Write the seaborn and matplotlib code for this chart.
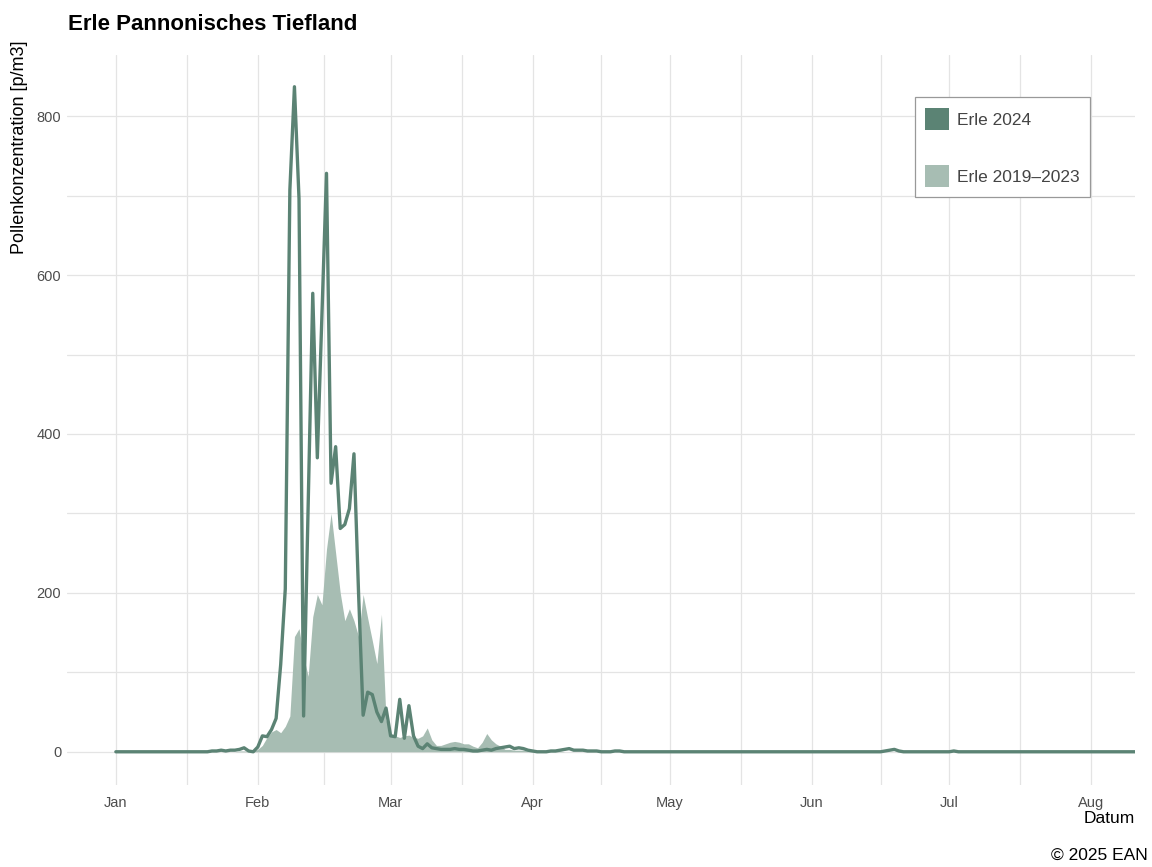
"""
Erle Pannonisches Tiefland - Pollenkonzentration 2024 vs. Mittel 2019-2023
"""

import numpy as np
import pandas as pd
import matplotlib
matplotlib.use("Agg")
import matplotlib.pyplot as plt
from matplotlib.patches import Patch
import seaborn as sns

# ─── Daten (Tageswerte, p/m3) ───
jan_2024 = [0, 0, 0, 0, 0, 0, 0, 0, 0, 0, 0, 0, 0, 0, 0, 0, 0, 0, 0, 0,
            0, 1, 1, 2, 1, 2, 2, 3, 5, 1, 0]
feb_2024 = [6, 20, 19, 28, 42, 110, 205, 707, 837, 696, 45, 310, 577, 370, 550,
            728, 338, 384, 281, 286, 306, 375, 200, 46, 75, 72, 50, 38, 55]
mar_2024 = [20, 19, 66, 17, 58, 20, 7, 4, 10, 5, 4, 3, 3, 3, 4, 3, 3, 2, 1, 1,
            2, 3, 2, 4, 5, 6, 7, 4, 5, 4, 2]
apr_2024 = [1, 0, 0, 0, 1, 1, 2, 3, 4, 2, 2, 2, 1, 1, 1, 0, 0, 0, 1, 1,
            0, 0, 0, 0, 0, 0, 0, 0, 0, 0]
may_2024 = [0, 0, 0, 0, 0, 0, 0, 0, 0, 0, 0, 0, 0, 0, 0, 0, 0, 0, 0, 0,
            0, 0, 0, 0, 0, 0, 0, 0, 0, 0, 0]
jun_2024 = [0, 0, 0, 0, 0, 0, 0, 0, 0, 0, 0, 0, 0, 0, 0, 0, 1, 2, 3, 1,
            0, 0, 0, 0, 0, 0, 0, 0, 0, 0]
jul_2024 = [0, 1, 0, 0, 0, 0, 0, 0, 0, 0, 0, 0, 0, 0, 0, 0, 0, 0, 0, 0,
            0, 0, 0, 0, 0, 0, 0, 0, 0, 0, 0]
aug_2024 = [0, 0, 0, 0, 0, 0, 0, 0, 0, 0, 0]

jan_mean = [0, 0, 0, 0, 0, 0, 0, 0, 0, 0, 0, 0, 0, 0, 0, 0, 0, 0, 0, 0,
            0, 0, 0, 0, 0, 0, 0, 1, 1, 1, 1]
feb_mean = [3, 8, 18, 25, 28, 24, 32, 45, 145, 155, 120, 95, 170, 198, 185,
            255, 300, 250, 200, 165, 180, 165, 145, 198, 168, 140, 111, 173, 40]
mar_mean = [23, 20, 18, 20, 21, 18, 17, 20, 30, 15, 8, 8, 10, 12, 13, 12, 10, 10, 7, 5,
            12, 23, 15, 10, 7, 3, 3, 2, 2, 2, 1]
apr_mean = [1, 1, 1, 1, 1, 1, 1, 0, 0, 0, 0, 0, 0, 0, 0, 0, 0, 0, 0, 0,
            0, 0, 0, 0, 0, 0, 0, 0, 0, 0]
may_mean = [0] * 31
jun_mean = [0] * 30
jul_mean = [0] * 31
aug_mean = [0] * 11

month_labels = ["Jan", "Feb", "Mar", "Apr", "May", "Jun", "Jul", "Aug"]
y_ticks = [0, 200, 400, 600, 800]

LINE_COLOR = "#5b8374"
FILL_COLOR = "#a7bdb3"

erle_2024 = jan_2024 + feb_2024 + mar_2024 + apr_2024 + may_2024 + jun_2024 + jul_2024 + aug_2024
erle_mean = jan_mean + feb_mean + mar_mean + apr_mean + may_mean + jun_mean + jul_mean + aug_mean

df = pd.DataFrame({
    "datum": pd.date_range("2024-01-01", periods=len(erle_2024), freq="D"),
    "erle_2024": erle_2024,
    "erle_mean": erle_mean,
})

# ─── Plot ───
sns.set_theme(style="whitegrid")
plt.rcParams["font.family"] = ["Liberation Sans", "DejaVu Sans"]

fig = plt.figure(figsize=(11.52, 8.67), dpi=100)
ax = fig.add_axes([0.058, 0.0946, 0.927, 0.842])

ax.fill_between(df["datum"], df["erle_mean"], color=FILL_COLOR, lw=0, zorder=2)
sns.lineplot(data=df, x="datum", y="erle_2024", color=LINE_COLOR, lw=2.4, ax=ax, zorder=3)

# Achsen
month_starts = pd.date_range("2024-01-01", periods=len(month_labels), freq="MS")
ax.set_xticks(month_starts)
ax.set_xticklabels(month_labels)
mids = month_starts[:-1] + (month_starts[1:] - month_starts[:-1]) / 2
ax.set_xticks(mids, minor=True)
ax.set_xlim(pd.Timestamp("2023-12-21 07:00"), pd.Timestamp("2024-08-10 12:00"))

ax.set_yticks(y_ticks)
ax.set_yticks([100, 300, 500, 700], minor=True)
ax.set_ylim(-41.8, 877)

ax.grid(which="both", color="#e4e4e4", lw=0.9)
ax.set_facecolor("white")
for s in ax.spines.values():
    s.set_visible(False)
ax.tick_params(axis="both", which="both", length=0, labelsize=10.5, labelcolor="#4d4d4d")
ax.tick_params(axis="x", pad=8)
ax.tick_params(axis="y", pad=4)

ax.set_xlabel("Datum", fontsize=12.5, color="black", loc="right", labelpad=1)
ax.set_ylabel("Pollenkonzentration [p/m3]", fontsize=13, color="black", loc="top", labelpad=6)
ax.yaxis.label.set_position((0, 1.02))

fig.text(0.059, 0.972, "Erle Pannonisches Tiefland", fontsize=16, fontweight="bold",
         color="black", ha="left", va="center")
fig.text(0.996, 0.014, "© 2025 EAN", fontsize=12.5, color="black", ha="right", va="center")

handles = [Patch(facecolor=LINE_COLOR, edgecolor="none", label="Erle 2024"),
           Patch(facecolor=FILL_COLOR, edgecolor="none", label="Erle 2019–2023")]
leg = ax.legend(handles=handles, loc="upper left", bbox_to_anchor=(0.794, 0.942),
                fontsize=12.5, frameon=True, fancybox=False, framealpha=1,
                handlelength=1.35, handleheight=1.6, labelspacing=2.0,
                handletextpad=0.5, borderpad=0.6, borderaxespad=0)
leg.get_frame().set_edgecolor("#999999")
leg.get_frame().set_linewidth(0.9)
for t in leg.get_texts():
    t.set_color("#444444")

plt.savefig("out.png", dpi=100)
plt.close()
